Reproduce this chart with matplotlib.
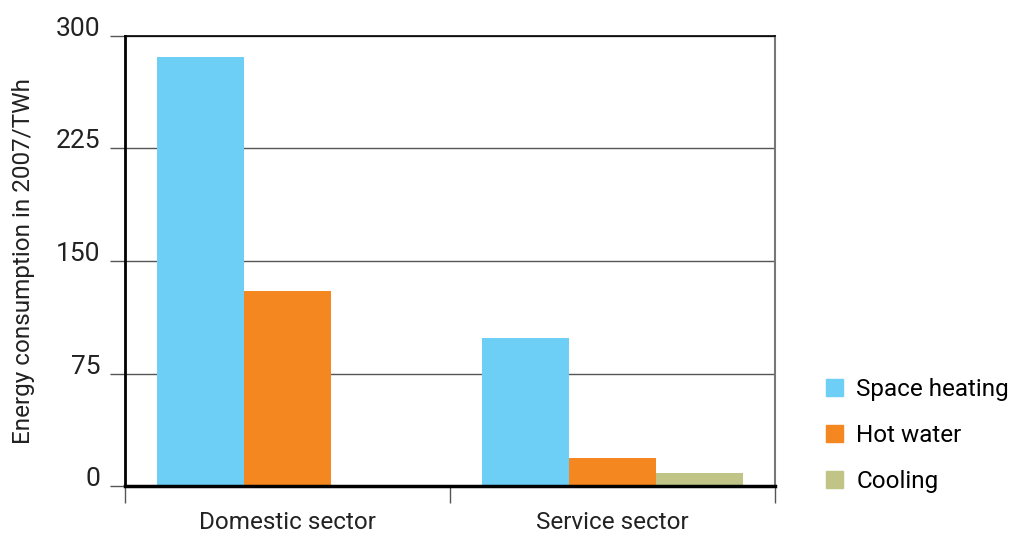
import matplotlib
matplotlib.use("Agg")
import numpy as np
import matplotlib.pyplot as plt
from matplotlib.patches import Patch

# datos
sectores = ["Domestic sector", "Service sector"]
series = ["Space heating", "Hot water", "Cooling"]
space_heating = [286, 99]
hot_water = [130, 19]
cooling = [0, 9]
colores = ["#6DCFF6", "#F58720", "#C0C587"]
yticks = [0, 75, 150, 225, 300]

plt.rcParams["font.family"] = ["Roboto", "DejaVu Sans"]

fig = plt.figure(figsize=(10.11, 5.33), dpi=100)
ax = fig.add_axes([125 / 1011, 47 / 533, 650 / 1011, 450 / 533])

x = np.arange(len(sectores))
ancho = 0.267
valores = [space_heating, hot_water, cooling]
for i, (vals, col) in enumerate(zip(valores, colores)):
    ax.bar(x + (i - 1) * ancho, vals, ancho, color=col, zorder=2)

ax.set_xlim(-0.5, 1.5)
ax.set_ylim(0, 300)

# rejilla horizontal
ax.set_yticks(yticks)
ax.set_yticklabels([str(v) for v in yticks], fontsize=19, color="#222222")
for t in ax.get_yticklabels():
    t.set_verticalalignment("baseline")
ax.yaxis.grid(True, color="#555555", linewidth=1, zorder=0)
ax.tick_params(axis="y", length=11, width=1, color="#555555", pad=7)

# marcas entre categorias y etiquetas centradas
ax.set_xticks([-0.5, 0.5, 1.5])
ax.set_xticklabels([])
ax.set_xticks(x, minor=True)
ax.set_xticklabels(sectores, minor=True, fontsize=17.5, color="#222222")
ax.tick_params(axis="x", which="major", length=12, width=1, color="#555555")
ax.tick_params(axis="x", which="minor", length=0, pad=18)

ax.spines["left"].set_linewidth(2)
ax.spines["bottom"].set_linewidth(2.5)
ax.spines["top"].set_linewidth(1.2)
ax.spines["right"].set_color("#777777")
ax.spines["right"].set_linewidth(1.5)
ax.set_axisbelow(True)

ax.set_ylabel("Energy consumption in 2007/TWh", fontsize=17.5, color="#222222", labelpad=15)

handles = [Patch(color=c, label=s) for c, s in zip(colores, series)]
fig.legend(handles=handles, loc="upper left", bbox_to_anchor=(826 / 1011, 1 - 378 / 533),
           frameon=False, fontsize=17.5, handlelength=0.7, handleheight=0.7,
           handletextpad=0.55, labelspacing=0.95, borderaxespad=0, borderpad=0)

fig.savefig("out.png", dpi=100)
